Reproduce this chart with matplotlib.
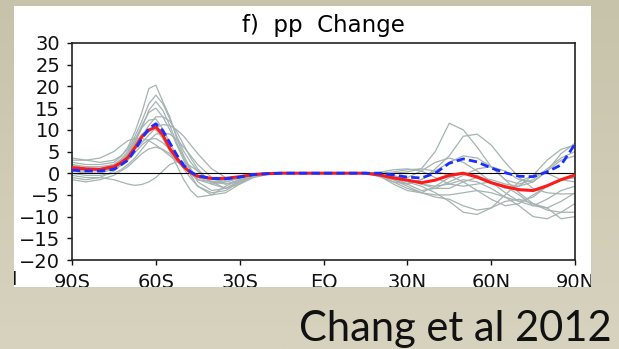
import numpy as np
import matplotlib
matplotlib.use('Agg')
import matplotlib.pyplot as plt
from matplotlib.patches import Rectangle
from matplotlib.transforms import Bbox, TransformedBbox

# latitude grid (deg, negative = south); finer around the southern peak
lat = [-90, -85, -80, -75, -72.5, -70, -67.5, -65, -62.5, -60, -57.5, -55, -52.5, -50, -47.5,
       -45, -40, -35, -30, -25, -20,
       -15, -10, -5, 0, 5, 10, 15,
       20, 25, 30, 35, 40, 45, 50, 55, 60, 65, 70, 75, 80, 85, 90]

# multi-model mean (red) and the other estimate (blue dashed)
red = [1.3, 1.0, 0.9, 1.5, 2.4, 3.6, 5.9, 8.4, 9.9, 10.7, 8.8, 5.7, 3.4, 1.5, 0.1,
       -0.7, -1.2, -1.2, -0.8, -0.3, -0.1,
       0, 0, 0, 0, 0, 0, 0,
       -0.4, -1.1, -1.6, -2.2, -1.6, -0.5, 0.0, -0.9, -2.2, -3.1, -3.8, -4.0, -2.9, -1.5, -0.4]
blue = [0.7, 0.5, 0.5, 0.9, 1.9, 3.0, 5.3, 8.0, 10.3, 11.4, 9.8, 7.0, 4.2, 1.8, 0.3,
        -0.6, -1.2, -1.3, -0.9, -0.3, -0.1,
        0, 0, 0, 0, 0, 0, 0,
        0.0, -0.4, -0.9, -1.1, 0.0, 2.3, 3.3, 2.6, 1.2, 0.1, -0.7, -0.8, 0.3, 1.9, 6.7]

# individual models (grey)
m01 = [2.5, 2.0, 2.0, 2.5, 3.8, 6.0, 9.5, 14.0, 19.5, 20.3, 16.5, 13.0, 8.0, 4.0, 1.0,
       -1.5, -2.5, -2.0, -1.0, -0.4, -0.1,
       0, 0, 0, 0, 0, 0, 0,
       -0.3, 0.0, 0.3, 1.0, 5.0, 11.5, 10.0, 6.0, 1.5, -1.5, -2.5, -1.5, 1.0, 3.5, 5.0]
m02 = [3.5, 3.0, 2.5, 3.0, 4.0, 5.5, 8.5, 12.0, 16.0, 18.0, 16.0, 12.5, 8.5, 5.0, 2.5,
       0.5, -2.0, -2.5, -1.5, -0.5, -0.2,
       0, 0, 0, 0, 0, 0, 0,
       -0.5, -1.5, -2.5, -1.5, 1.0, 4.0, 8.5, 9.0, 6.5, 2.5, -1.0, -3.5, -4.5, -4.8, -4.7]
m03 = [1.5, 1.0, 0.8, 1.2, 2.2, 4.0, 7.0, 10.5, 14.5, 16.5, 14.5, 11.0, 7.0, 3.5, 0.5,
       -2.0, -4.0, -3.5, -1.8, -0.6, -0.2,
       0, 0, 0, 0, 0, 0, 0,
       -0.3, -1.0, -2.5, -4.0, -3.5, -2.0, -0.5, 1.0, 1.5, 0.5, -1.5, -2.0, 0.5, 4.5, 6.9]
m04 = [0.5, 0.0, 0.0, 1.0, 2.5, 4.5, 7.5, 11.0, 14.0, 15.0, 13.0, 10.0, 6.5, 3.0, -0.5,
       -3.0, -5.0, -4.5, -2.5, -0.8, -0.2,
       0, 0, 0, 0, 0, 0, 0,
       -0.5, -1.5, -3.0, -4.5, -5.5, -6.0, -7.5, -8.5, -8.0, -6.5, -6.0, -7.0, -8.0, -10.5, -10.0]
m05 = [-1.0, -1.5, -1.0, 0.5, 1.8, 3.5, 6.0, 8.5, 11.0, 13.0, 13.0, 12.0, 9.5, 6.5, 3.5,
       1.0, -2.5, -3.5, -2.2, -0.8, -0.2,
       0, 0, 0, 0, 0, 0, 0,
       -0.8, -2.0, -2.5, -1.5, 0.5, 2.5, 4.0, 3.5, 1.5, -1.5, -4.5, -7.0, -8.5, -9.0, -9.0]
m06 = [2.0, 1.5, 1.5, 2.0, 3.0, 4.0, 5.5, 7.0, 8.8, 10.5, 11.2, 11.0, 10.0, 8.5, 6.5,
       4.5, 1.0, -1.0, -1.0, -0.4, -0.1,
       0, 0, 0, 0, 0, 0, 0,
       0.0, -0.5, -1.5, -2.5, -3.0, -2.5, -1.5, -2.0, -3.5, -5.5, -7.5, -10.0, -10.5, -9.0, -7.0]
m07 = [3.0, 3.0, 3.5, 5.0, 6.3, 7.5, 8.0, 8.0, 7.5, 6.5, 5.3, 4.0, 2.7, 1.5, 0.4,
       -0.5, -1.5, -1.5, -0.8, -0.3, -0.1,
       0, 0, 0, 0, 0, 0, 0,
       -0.3, -1.0, -2.0, -3.0, -4.5, -6.5, -9.0, -9.5, -8.0, -5.0, -2.0, -0.5, 0.0, -1.5, -2.0]
m08 = [0.0, -0.5, -0.5, 0.0, 0.8, 2.0, 3.5, 5.5, 7.5, 9.0, 9.3, 9.0, 7.8, 6.0, 4.0,
       2.0, -1.0, -2.5, -2.0, -0.8, -0.2,
       0, 0, 0, 0, 0, 0, 0,
       -0.5, -1.0, -1.0, 0.5, 2.5, 3.5, 2.5, 0.5, -2.0, -4.5, -6.5, -7.5, -6.0, -4.0, -3.0]
m09 = [-0.5, -1.0, -1.0, -1.5, -2.0, -2.5, -2.8, -2.6, -2.0, -1.0, 0.5, 2.0, 2.6, 2.5, 1.6,
       0.5, -2.0, -3.5, -2.5, -1.0, -0.3,
       0, 0, 0, 0, 0, 0, 0,
       -0.5, -2.0, -3.5, -4.5, -5.0, -5.0, -4.5, -4.0, -4.5, -5.5, -6.5, -5.5, -3.0, -1.5, -1.0]
m10 = [1.0, 0.5, 0.5, 1.5, 2.8, 4.5, 6.8, 9.0, 10.2, 10.0, 8.0, 5.0, 1.8, -1.5, -4.0,
       -5.5, -5.0, -3.0, -1.5, -0.5, -0.1,
       0, 0, 0, 0, 0, 0, 0,
       0.2, 0.8, 1.0, 0.5, -1.0, -2.5, -3.0, -2.5, -2.0, -3.0, -5.0, -7.5, -8.0, -6.5, -4.5]
m11 = [2.0, 1.0, 0.5, 1.0, 1.8, 3.0, 4.7, 6.5, 7.8, 8.0, 7.0, 5.5, 3.2, 1.0, -1.2,
       -3.0, -4.5, -4.0, -2.0, -0.6, -0.2,
       0, 0, 0, 0, 0, 0, 0,
       -0.6, -2.5, -4.0, -4.5, -3.0, -1.0, 0.0, -0.5, -2.0, -3.5, -3.0, -0.5, 3.0, 5.5, 6.5]
m12 = [-1.5, -2.0, -1.5, -0.5, 0.5, 1.5, 3.0, 4.5, 5.6, 6.0, 5.5, 4.5, 3.0, 1.5, 0.2,
       -1.0, -2.0, -2.0, -1.2, -0.4, -0.1,
       0, 0, 0, 0, 0, 0, 0,
       -0.2, -0.8, -1.5, -2.5, -3.5, -3.5, -2.0, -1.0, -1.5, -2.5, -3.0, -2.0, 0.5, 3.0, 4.0]
m13 = [0.5, 0.5, 1.0, 2.0, 3.2, 5.0, 7.8, 10.5, 12.2, 12.5, 10.2, 7.0, 4.0, 1.5, -0.3,
       -1.5, -2.0, -1.5, -0.8, -0.3, -0.1,
       0, 0, 0, 0, 0, 0, 0,
       0.0, 0.3, 0.8, 1.0, 0.5, -0.5, -2.0, -4.0, -6.0, -7.5, -7.0, -5.0, -3.0, -1.5, -1.0]
models = [m01, m02, m03, m04, m05, m06, m07, m08, m09, m10, m11, m12, m13]

xticks = [-90, -60, -30, 0, 30, 60, 90]
xlabels = ['90S', '60S', '30S', 'EQ', '30N', '60N', '90N']
yticks = [-20, -15, -10, -5, 0, 5, 10, 15, 20, 25, 30]

W, H = 619, 349
fig = plt.figure(figsize=(W / 100, H / 100), dpi=100)

# slide background (soft beige gradient)
bg = fig.add_axes([0, 0, 1, 1], zorder=-10)
top = np.array([199, 195, 170]) / 255
bot = np.array([216, 211, 191]) / 255
t = np.linspace(0, 1, 200)[:, None, None]
bg.imshow(top + (bot - top) * t, aspect='auto', extent=[0, 1, 0, 1])
bg.axis('off')

# white panel holding the chart
px0, py0, px1, py1 = 14, 6, 591, 287
panel = Rectangle((px0 / W, 1 - py1 / H), (px1 - px0) / W, (py1 - py0) / H,
                  transform=fig.transFigure, facecolor='white', edgecolor='none', zorder=-5)
fig.patches.append(panel)
clipbb = TransformedBbox(Bbox.from_extents(px0 / W, 1 - py1 / H, px1 / W, 1 - py0 / H),
                         fig.transFigure)

ax = fig.add_axes([72 / W, 1 - 260 / H, (575 - 72) / W, (260 - 43) / H])
ax.set_facecolor('none')

for m in models:
    ax.plot(lat, m, color='#a5b4b1', lw=0.9, zorder=1)
ax.axhline(0, color='black', lw=0.8, zorder=2)
ax.plot(lat, red, color='#ff1a1a', lw=2.2, zorder=3)
ax.plot(lat, blue, color='#1a2eff', lw=2.0, ls=(0, (3, 1.5)), zorder=4)

ax.set_xlim(-90, 90)
ax.set_ylim(-20, 30)
ax.set_xticks(xticks)
ax.set_xticklabels(xlabels)
ax.set_yticks(yticks)
ax.tick_params(direction='out', length=3.5, width=1, labelsize=14, colors='#111111')
ax.tick_params(axis='x', pad=5.5)
ax.tick_params(axis='y', pad=5)
for s in ax.spines.values():
    s.set_linewidth(1.2)
    s.set_color('#222222')
for lab in ax.get_xticklabels():
    lab.set_clip_box(clipbb)
    lab.set_clip_on(True)

ax.set_title('f)  pp  Change', fontsize=16.5, pad=8)

# cut-off label of the neighbouring panel
nb = fig.text(17 / W, 1 - 270 / H, 'N', ha='right', va='top', fontsize=14, color='#111111')
nb.set_clip_box(clipbb)
nb.set_clip_on(True)

fig.text(612 / W, 1 - 341 / H, 'Chang et al 2012', ha='right', va='baseline',
         fontsize=30, family='Lato', color='#111111')

fig.savefig('out.png', dpi=100)
